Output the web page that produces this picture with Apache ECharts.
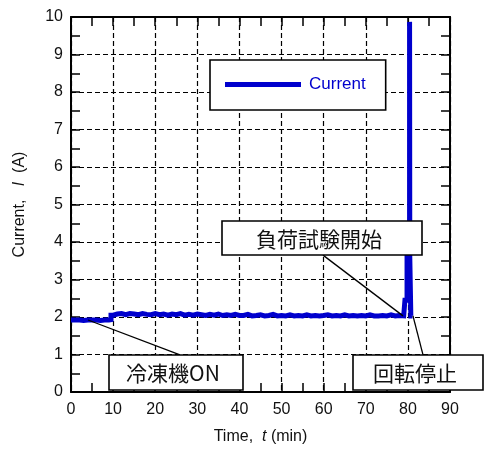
<!DOCTYPE html>
<html><head><meta charset="utf-8">
<script src="https://cdn.jsdelivr.net/npm/echarts@6/dist/echarts.min.js"></script>
<style>html,body{margin:0;padding:0;background:#fff}#c{width:485px;height:452px}</style>
</head><body><div id="c"></div>
<script>
// time (min)
const times = [0,1,2,3,4,5,6,7,8,9,9.5,
  10,11,12,13,14,15,16,17,18,19,20,21,22,23,24,25,26,27,28,29,
  30,31,32,33,34,35,36,37,38,39,40,41,42,43,44,45,46,47,48,49,
  50,51,52,53,54,55,56,57,58,59,60,61,62,63,64,65,66,67,68,69,
  70,71,72,73,74,75,76,77,78,79,79.3,79.8,80.4,80.45,80.7,81.1];
// current (A)
const currents = [1.92,1.92,1.91,1.92,1.92,1.92,1.91,1.92,1.92,1.93,2.05,
  2.08,2.09,2.06,2.09,2.08,2.06,2.09,2.07,2.06,2.09,2.06,2.08,2.05,2.08,2.06,2.09,2.05,2.07,2.05,2.08,
  2.06,2.04,2.07,2.05,2.08,2.04,2.06,2.04,2.07,2.04,2.04,2.07,2.03,2.04,2.06,2.03,2.04,2.07,2.03,2.04,
  2.03,2.06,2.03,2.04,2.03,2.06,2.03,2.04,2.03,2.04,2.06,2.03,2.04,2.03,2.06,2.03,2.04,2.03,2.04,2.03,
  2.06,2.03,2.03,2.04,2.03,2.06,2.03,2.04,2.03,2.03,2.45,3.6,9.87,3.6,2.03,2.03];
const seriesName = 'Current';
const xTicks = [0,10,20,30,40,50,60,70,80,90];
const yTicks = [0,1,2,3,4,5,6,7,8,9,10];
// annotations: label text and leader line endpoints (data coords)
const noteTexts = ['冷凍機ON','負荷試験開始','回転停止'];
const noteLeaderFrom = [[4.04,1.92],[78.84,2.03],[81.21,2.03]];
const noteLeaderTo = [[25.88,0.99],[59.84,3.65],[83.59,0.99]];

const data = times.map((t,i)=>[t,currents[i]]);
const chart = echarts.init(document.getElementById('c'), null, {renderer:'canvas'});
const FONT = 'Liberation Sans, Arial, sans-serif';
const dashed = {show:true, lineStyle:{color:'#000', width:1.2, type:[5,3]}};
function mkX(pos, primary){
  return {type:'value', position:pos, min:xTicks[0], max:xTicks[xTicks.length-1], interval:10,
    axisLine:{show:true, onZero:false, lineStyle:{color:'#000', width:2}},
    axisTick:{show:true, inside:true, length:9, lineStyle:{color:'#000', width:1.5}},
    minorTick:{show:true, splitNumber:2, length:9, lineStyle:{color:'#000', width:1.5}},
    axisLabel:{show:primary, color:'#111', fontSize:16, fontFamily:FONT, margin:10},
    splitLine: primary ? dashed : {show:false},
    name: primary ? 'Time,  {i|t} (min)' : '', nameLocation:'middle', nameGap:37,
    nameTextStyle:{color:'#111', fontSize:16, fontFamily:FONT, rich:{i:{fontStyle:'italic', fontSize:16, fontFamily:FONT, color:'#111'}}}
  };
}
function mkY(pos, primary){
  return {type:'value', position:pos, min:yTicks[0], max:yTicks[yTicks.length-1], interval:1,
    axisLine:{show:true, onZero:false, lineStyle:{color:'#000', width:2}},
    axisTick:{show:true, inside:true, length:9, lineStyle:{color:'#000', width:1.5}},
    minorTick:{show:true, splitNumber:2, length:9, lineStyle:{color:'#000', width:1.5}},
    axisLabel:{show:primary, color:'#111', fontSize:16, fontFamily:FONT, margin:8},
    splitLine: primary ? dashed : {show:false},
    name: primary ? 'Current,   {i|I}  (A)' : '', nameLocation:'middle', nameGap:43,
    nameTextStyle:{color:'#111', fontSize:16, fontFamily:FONT, rich:{i:{fontStyle:'italic', fontSize:16, fontFamily:FONT, color:'#111'}}}
  };
}
chart.setOption({
  animation:false,
  backgroundColor:'#fff',
  grid:{left:71, right:35, top:17, bottom:60, containLabel:false},
  xAxis:[mkX('bottom',true), mkX('top',false)],
  yAxis:[mkY('left',true), mkY('right',false)],
  legend:{show:true, left:210, top:60, orient:'horizontal',
    padding:[16,20,17,15], backgroundColor:'#fff', borderColor:'#000', borderWidth:1.6,
    itemWidth:76, itemHeight:5, icon:'rect', itemGap:0,
    textStyle:{color:'#0000cd', fontSize:17, fontFamily:FONT, padding:[0,0,0,3]},
    data:[seriesName]},
  series:[{name:seriesName, type:'line', xAxisIndex:0, yAxisIndex:0, data:data,
    step:'end', showSymbol:false, symbol:'none',
    lineStyle:{color:'#0000cd', width:5, join:'miter'}, itemStyle:{color:'#0000cd'}, z:3}]
});

// annotation boxes (layout in pixels)
const boxes = [
  {x:109, y:355, w:134, h:35},
  {x:222, y:221, w:200, h:34},
  {x:353, y:355, w:130, h:35}
];
const elements = [];
noteTexts.forEach((txt,i)=>{
  const p1 = chart.convertToPixel({gridIndex:0}, noteLeaderFrom[i]);
  const p2 = chart.convertToPixel({gridIndex:0}, noteLeaderTo[i]);
  elements.push({type:'line', z:100, shape:{x1:p1[0], y1:p1[1], x2:p2[0], y2:p2[1]},
    style:{stroke:'#000', lineWidth:1.3}});
  const b = boxes[i];
  elements.push({type:'rect', z:101, shape:{x:b.x, y:b.y, width:b.w, height:b.h},
    style:{fill:'#fff', stroke:'#000', lineWidth:1.6}});
  elements.push({type:'text', z:102, x:b.x + b.w/2 - 3, y:b.y + b.h/2 + 1,
    style:{text:txt, fill:'#111', font:'21px "Noto Sans CJK JP"', align:'center', verticalAlign:'middle'}});
});
chart.setOption({graphic:{elements:elements}});
</script></body></html>
